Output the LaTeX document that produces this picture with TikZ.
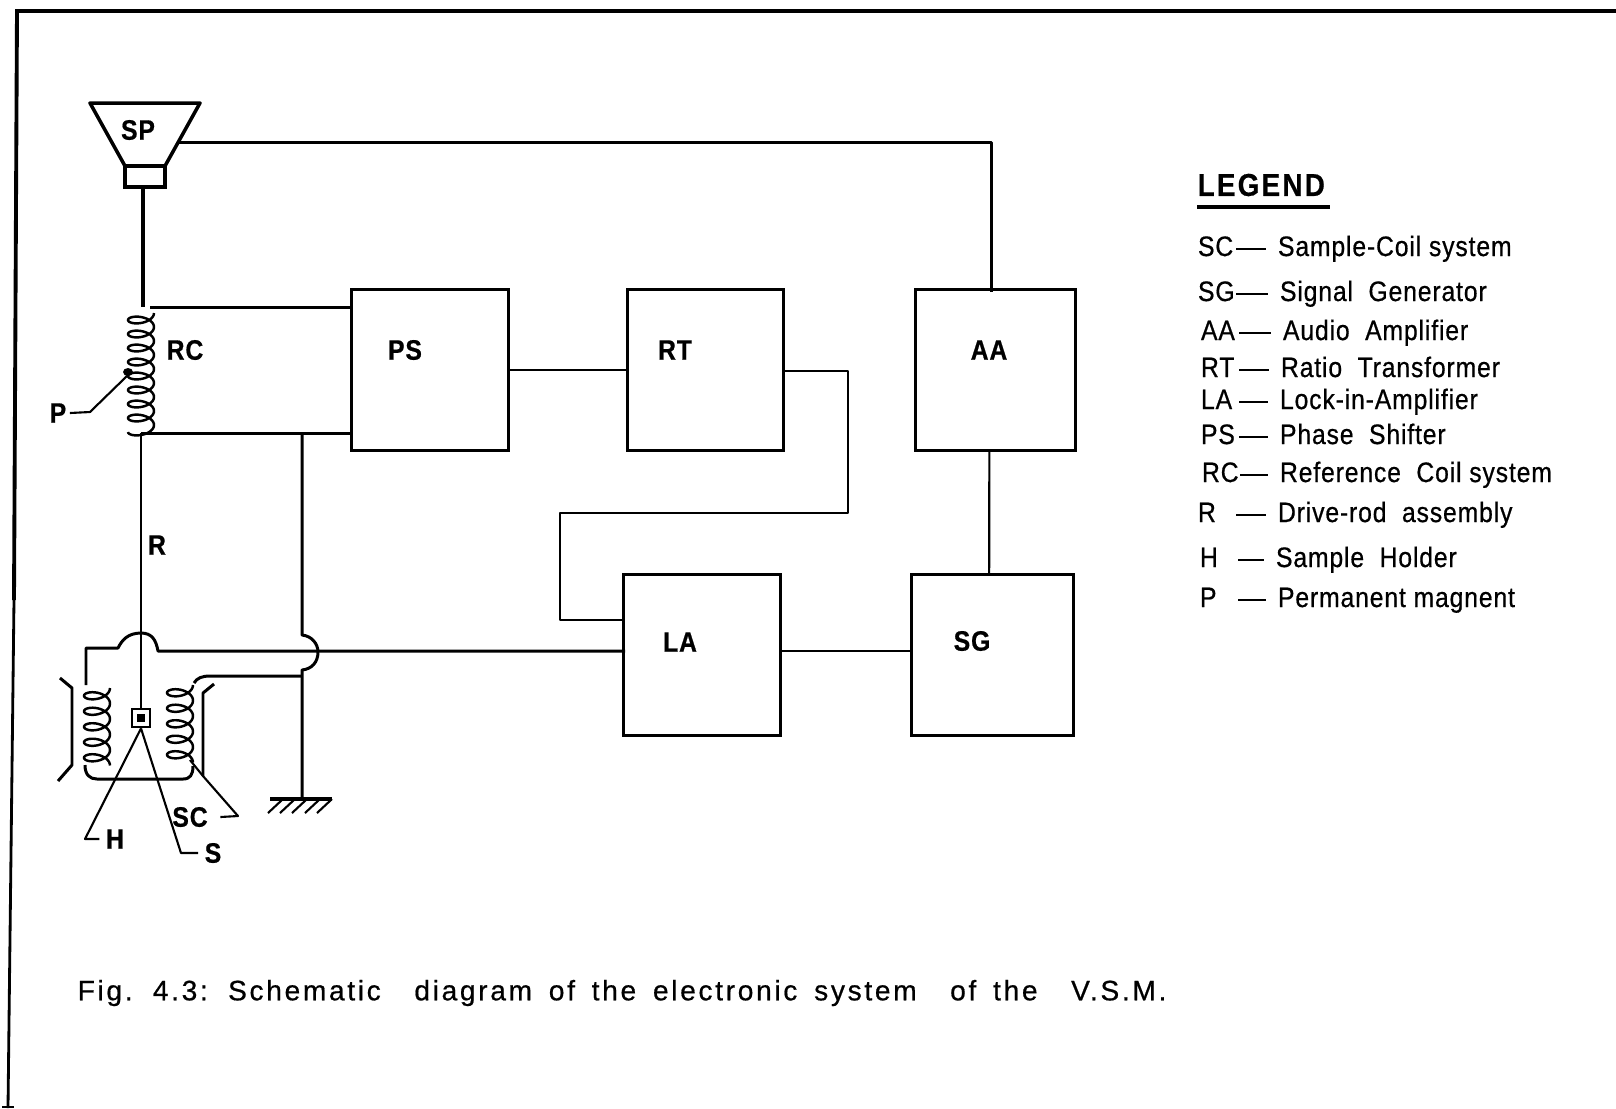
\documentclass[tikz,border=0pt]{standalone}
\usepackage{fontspec}
\setmainfont{Liberation Sans}
\newfontfamily\legendfont[LetterSpace=3,FakeStretch=0.88,FakeBold=0.6]{Liberation Sans}
\newfontfamily\headfont[LetterSpace=7,FakeStretch=0.88,FakeBold=0.6]{Liberation Sans}
\newfontfamily\capfont[LetterSpace=9.5,WordSpace=1.6,FakeBold=0.6]{Liberation Sans}
\usetikzlibrary{positioning}

\begin{document}
\begin{tikzpicture}[
  x=0.01cm, y=-0.01cm,
  node distance = 1.19cm and 1.19cm,
  wire/.style   = {line width=0.85pt, line join=round},
  thin wire/.style = {line width=0.6pt, line join=round},
  box/.style    = {draw, line width=0.85pt, minimum width=1.56cm, minimum height=1.60cm,
                   inner sep=0pt, outer sep=0pt},
  tag/.style    = {font=\legendfont\fontsize{8}{10}\selectfont\bfseries, inner sep=0pt},
  coil/.style   = {line width=0.7pt, smooth},
  legkey/.style = {font=\legendfont\fontsize{8}{10}\selectfont, inner sep=0pt, outer sep=0pt,
                   text width=0.36cm, text height=0.2cm, text depth=0.06cm, anchor=west},
  legtext/.style= {font=\legendfont\fontsize{8}{10}\selectfont, inner sep=0pt, outer sep=0pt,
                   text height=0.2cm, text depth=0.06cm, anchor=west},
  legdash/.style= {line width=0.7pt, shorten <=0.02cm, shorten >=0.12cm},
]
\useasboundingbox (0,0) rectangle (1616,1108);
% frame
\draw[line width=1.1pt] (1616,11) -- (17,11) -- (14,600);
\draw[line width=0.8pt] (14,600) -- (8,1108);
\draw[line width=0.6pt] (2,1107) -- (14,1107);

% block units
\node[box]                          (ps) at (430,370) {};
\node[box, right=1.19cm of ps]      (rt) {};
\node[box, minimum width=1.60cm, right=1.32cm of rt] (aa) {};
\node[box]                          (la) at (702,655) {};
\node[box, minimum width=1.62cm, right=1.31cm of la] (sg) {};
\node[tag] (pslab) at (405,350) {PS};
\node[tag] (rtlab) at (675,350) {RT};
\node[tag] (aalab) at (989,350) {AA};
\node[tag] (lalab) at (680,642) {LA};
\node[tag] (sglab) at (972,641) {SG};

% speaker
\draw[line width=1pt, line join=round] (90,103) -- (200,103) -- (165,166) -- (125,166) -- cycle;
\node[draw, line width=1.2pt, minimum width=0.40cm, minimum height=0.21cm,
      inner sep=0pt] (spbase) at (145,176.5) {};
\node[tag] (splab) at (138,130) {SP};
\coordinate (spout) at (178,142);
\coordinate (aain)  at (991,292);
\draw[wire] (spout) -| (aain);

% drive rod and reference coil
\coordinate (rctop) at (143,307);
\coordinate (rcbot) at (141,433);
\node[draw, line width=0.8pt, minimum size=0.18cm, inner sep=0pt] (holder) at (141,718) {};
\node[draw, fill, minimum size=0.07cm, inner sep=0pt] (sample) at (holder) {};
\draw[line width=1.1pt] (spbase.south -| rctop) -- (rctop);
\draw[wire] (rcbot) -- (holder.north);
\draw[coil] plot[domain=0:3060, samples=260] ({141+13*cos(\x)},{313+\x/360*14+6.5*sin(\x)});
\fill (128,372) ellipse (5 and 4);
\node[tag] (rclab) at (185,350) {RC};
\node[tag] (rlab)  at (157,545) {R};
\node[tag] (plab)  at (58,413) {P};
\draw[thin wire] ([xshift=0.03cm]plab.east) -- (90,412) -- (128,375);
\draw[wire] (150,307) -- (150,307 -| ps.west);
\draw[wire] (rcbot) -- (rcbot -| ps.west);

% sample coil system
\draw[coil] plot[domain=0:1800, samples=160] ({97+13*cos(\x)},{688+\x/360*15.5+7*sin(\x)});
\draw[coil] plot[domain=0:1800, samples=160] ({180+13*cos(\x)},{685+\x/360*15.5+7*sin(\x)});
\draw[wire] (86,685) -- (86,648) -- (118,648) .. controls (122,640) and (128,633) .. (141,633)
  .. controls (152,633) and (156,640) .. (158,651) -- (625,651);
\draw[wire] (302,433) -- (302,635) .. controls (312,636) and (318,644) .. (318,652)
  .. controls (318,662) and (312,669) .. (302,670) -- (302,799);
\draw[wire] (302,676) -- (210,676) .. controls (202,676) and (197,678) .. (194,683);
\draw[wire] (85,765) .. controls (85,775) and (90,779) .. (97,779) -- (183,779)
  .. controls (190,779) and (193,775) .. (193,766);
\draw[wire] (60,678) -- (72,688) -- (72,765) -- (58,781);
\draw[wire] (214,684) -- (203,693) -- (203,776);
\node[tag] (sclab) at (190,817) {SC};
\node[tag] (hlab)  at (115,839) {H};
\node[tag] (slab)  at (213,853) {S};
\draw[thin wire] (190,760) -- (203,776) -- (238,816) -- ([xshift=0.12cm]sclab.east);
\draw[thin wire] (holder.south) -- (85,839) -- ([xshift=-0.06cm]hlab.west);
\draw[thin wire] (holder.south) -- (181,853) -- ([xshift=-0.06cm]slab.west);

% ground
\draw[line width=1pt] (270,799) -- (332,799);
\draw[thin wire] (283,799) -- (268,813);
\draw[thin wire] (295,799) -- (280,813);
\draw[thin wire] (307,799) -- (292,813);
\draw[thin wire] (320,799) -- (305,813);
\draw[thin wire] (332,799) -- (317,813);

% signal path
\draw[thin wire] (ps.east) -- (rt.west);
\draw[thin wire] (783,371) -- (848,371) -- (848,513) -- (560,513) -- (560,620) -- (625,620);
\draw[thin wire] ([yshift=0.04cm]la.east) -- ([yshift=0.04cm]sg.west);
\draw[thin wire] ([xshift=-0.06cm]aa.south) -- ([xshift=-0.03cm]sg.north);

% legend
\node[font=\headfont\fontsize{9}{11}\selectfont\bfseries, inner sep=0pt, anchor=west] (legend) at (1197,185) {LEGEND};
\draw[line width=1.1pt] (1197,207) -- (1330,207);
\node[legkey] (ksc) at (1198,249) {SC};
\node[legkey] (ksg) at (1198,294) {SG};
\node[legkey] (kaa) at (1201,333) {AA};
\node[legkey] (krt) at (1201,370) {RT};
\node[legkey] (kla) at (1201,402) {LA};
\node[legkey] (kps) at (1201,437) {PS};
\node[legkey] (krc) at (1202,475) {RC};
\node[legkey] (kr)  at (1198,515) {R};
\node[legkey] (kh)  at (1200,560) {H};
\node[legkey] (kp)  at (1200,600) {P};
\node[legtext] (tsc) at (1278,249) {Sample-Coil system};
\node[legtext] (tsg) at (1280,294) {Signal\ \ Generator};
\node[legtext] (taa) at (1283,333) {Audio\ \ Amplifier};
\node[legtext] (trt) at (1281,370) {Ratio\ \ Transformer};
\node[legtext] (tla) at (1280,402) {Lock-in-Amplifier};
\node[legtext] (tps) at (1280,437) {Phase\ \ Shifter};
\node[legtext] (trc) at (1280,475) {Reference\ \ Coil system};
\node[legtext] (tr)  at (1278,515) {Drive-rod\ \ assembly};
\node[legtext] (th)  at (1276,560) {Sample\ \ Holder};
\node[legtext] (tp)  at (1278,600) {Permanent magnent};
\draw[legdash] (ksc) -- (tsc);
\draw[legdash] (ksg) -- (tsg);
\draw[legdash] (kaa) -- (taa);
\draw[legdash] (krt) -- (trt);
\draw[legdash] (kla) -- (tla);
\draw[legdash] (kps) -- (tps);
\draw[legdash] (krc) -- (trc);
\draw[legdash] (kr)  -- (tr);
\draw[legdash] (kh)  -- (th);
\draw[legdash] (kp)  -- (tp);

% caption
\node[font=\capfont\fontsize{8}{10}\selectfont, inner sep=0pt, anchor=west] (caption) at (77,993)
  {Fig. 4.3: Schematic\ \ diagram of the electronic system\ \ of the\ \ V.S.M.};
\end{tikzpicture}
\end{document}
